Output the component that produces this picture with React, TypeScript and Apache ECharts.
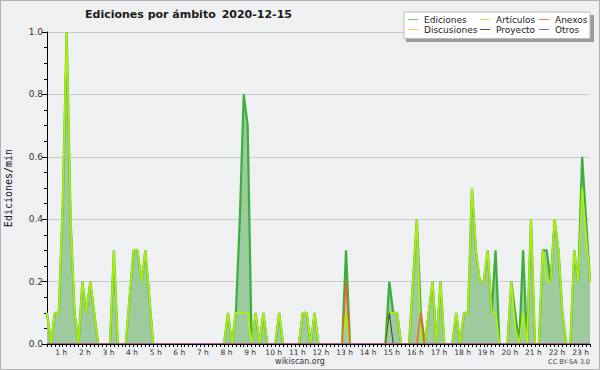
import React, { useEffect, useRef } from 'react';
import * as echarts from 'echarts';

// Time axis: minutes since 0:00, one value every 10 minutes starting at 0:20
const START_MIN = 20;
const STEP_MIN = 10;
const END_MIN = 1400;

// Ediciones/min (total), rows = hours (first row 0:20..0:50)
const ediciones = [
  0.1, 0, 0.1, 0.1,
  0.45, 1.0, 0.4, 0.1, 0, 0.2,
  0.1, 0.2, 0.1, 0, 0, 0,
  0, 0.3, 0, 0, 0, 0.15,
  0.3, 0.3, 0.2, 0.3, 0.15, 0,
  0, 0, 0, 0, 0, 0,
  0, 0, 0, 0, 0, 0,
  0, 0, 0, 0, 0, 0,
  0.1, 0, 0.1, 0.4, 0.8, 0.7,
  0, 0.1, 0, 0.1, 0, 0,
  0, 0.1, 0, 0, 0, 0,
  0, 0.1, 0.1, 0, 0.1, 0,
  0, 0, 0, 0, 0, 0,
  0.3, 0, 0, 0, 0, 0,
  0, 0, 0, 0, 0, 0.2,
  0.1, 0.1, 0, 0, 0, 0.2,
  0.4, 0.1, 0, 0.1, 0.2, 0,
  0.2, 0, 0, 0, 0.1, 0,
  0.1, 0.1, 0.5, 0.3, 0.2, 0.2,
  0.3, 0.1, 0.3, 0, 0, 0,
  0.2, 0.1, 0, 0.3, 0, 0.4,
  0, 0, 0.3, 0.3, 0.2, 0.4,
  0.3, 0.1, 0, 0, 0.3, 0.2,
  0.6, 0.4, 0.2,
];

const articulos = [
  0.1, 0, 0.1, 0.1,
  0.45, 1.0, 0.4, 0.1, 0, 0.2,
  0.1, 0.2, 0.1, 0, 0, 0,
  0, 0.3, 0, 0, 0, 0.15,
  0.3, 0.3, 0.2, 0.3, 0.15, 0,
  0, 0, 0, 0, 0, 0,
  0, 0, 0, 0, 0, 0,
  0, 0, 0, 0, 0, 0,
  0.1, 0, 0.1, 0.1, 0.1, 0.1,
  0, 0.1, 0, 0.1, 0, 0,
  0, 0.1, 0, 0, 0, 0,
  0, 0.1, 0.1, 0, 0.1, 0,
  0, 0, 0, 0, 0, 0,
  0.1, 0, 0, 0, 0, 0,
  0, 0, 0, 0, 0, 0.1,
  0.1, 0.1, 0, 0, 0, 0.2,
  0.4, 0, 0, 0.1, 0.2, 0,
  0.2, 0, 0, 0, 0.1, 0,
  0.1, 0.1, 0.5, 0.3, 0.2, 0.2,
  0.3, 0.1, 0.1, 0, 0, 0,
  0.2, 0.05, 0, 0.1, 0, 0.4,
  0, 0, 0.3, 0.2, 0.2, 0.4,
  0.3, 0.1, 0, 0, 0.3, 0.2,
  0.5, 0.35, 0.2,
];

// Sparse series: [index, value]; all other points are 0
const anexosNonZero = [[76, 0.2], [95, 0.1]];
const proyectoNonZero = [[87, 0.1]];
const discusionesNonZero: number[][] = [];
const otrosNonZero: number[][] = [];

const legendItems = [
  { name: 'Ediciones', color: '#7cc67c' },
  { name: 'Artículos', color: '#c8ec5a' },
  { name: 'Anexos', color: '#f07a48' },
  { name: 'Discusiones', color: '#f0cc50' },
  { name: 'Proyecto', color: '#555555' },
  { name: 'Otros', color: '#9a58ee' },
];

const FONT = '"DejaVu Sans", Verdana, sans-serif';

function toPoints(values: number[]) {
  return values.map((v, i) => [START_MIN + i * STEP_MIN, v]);
}
function sparseToPoints(nz: number[][]) {
  const arr = new Array(ediciones.length).fill(0);
  nz.forEach(([i, v]) => { arr[i] = v; });
  return toPoints(arr);
}

export default function App() {
  const ref = useRef<HTMLDivElement>(null);
  useEffect(() => {
    if (!ref.current) return;
    const chart = echarts.init(ref.current, null, { renderer: 'svg' });

    const colX = [408, 480, 539];
    const rowY = [19.5, 29.5];
    const legendGraphics: any[] = [];
    legendItems.forEach((it, k) => {
      const c = k % 3;
      const r = Math.floor(k / 3);
      legendGraphics.push({
        type: 'line',
        shape: { x1: colX[c], y1: rowY[r], x2: colX[c] + 10, y2: rowY[r] },
        style: { stroke: it.color, lineWidth: 1 },
        z: 101,
      });
      legendGraphics.push({
        type: 'text',
        x: colX[c] + 16,
        y: rowY[r],
        style: {
          text: it.name, fill: '#222', font: `9px ${FONT}`,
          align: 'left', verticalAlign: 'middle', textAlign: 'left', textVerticalAlign: 'middle',
        },
        z: 101,
      });
    });

    const option: any = {
      animation: false,
      backgroundColor: '#eff0f1',
      textStyle: { fontFamily: FONT },
      grid: { left: 47, right: 10, top: 32, bottom: 26, containLabel: false, outerBoundsMode: 'none' },
      xAxis: {
        type: 'value',
        min: START_MIN,
        max: END_MIN,
        interval: STEP_MIN,
        z: 5,
        axisLine: { show: true, onZero: false, lineStyle: { color: '#000', width: 1 } },
        axisTick: { show: true, inside: false, length: 3, lineStyle: { color: '#000', width: 1 } },
        axisLabel: {
          show: true,
          margin: 4,
          fontSize: 7.5,
          color: '#333',
          fontFamily: FONT,
          padding: [0, 3, 0, 0],
          formatter: (v: number) => (v % 60 === 0 ? `${v / 60} h` : ''),
        },
        splitLine: { show: false },
      },
      yAxis: {
        type: 'value',
        min: 0,
        max: 1,
        interval: 0.2,
        name: 'Ediciones/min',
        nameLocation: 'middle',
        nameGap: 34,
        nameTextStyle: { fontFamily: '"DejaVu Sans Mono", monospace', fontSize: 10, color: '#111' },
        axisLine: { show: true, lineStyle: { color: '#000', width: 1 } },
        axisTick: { show: true, inside: false, length: 5, lineStyle: { color: '#000' } },
        minorTick: { show: true, splitNumber: 4, length: 3, lineStyle: { color: '#000' } },
        axisLabel: {
          margin: 4, fontSize: 9, color: '#333', fontFamily: FONT,
          formatter: (v: number) => v.toFixed(1),
        },
        splitLine: { show: true, lineStyle: { color: '#c9cacb', width: 1 } },
      },
      series: [
        {
          name: 'Ediciones', type: 'line', data: toPoints(ediciones), showSymbol: false,
          lineStyle: { color: '#3cae3c', width: 2.2 },
          areaStyle: { color: '#9ecb9e', opacity: 1, origin: 'start' },
          z: 2,
        },
        {
          name: 'Artículos', type: 'line', data: toPoints(articulos), showSymbol: false,
          lineStyle: { color: '#b2ee0c', width: 1.7 }, z: 3,
        },
        {
          name: 'Discusiones', type: 'line', data: sparseToPoints(discusionesNonZero), showSymbol: false,
          lineStyle: { color: '#f0c530', width: 1.2 }, z: 3,
        },
        {
          name: 'Proyecto', type: 'line', data: sparseToPoints(proyectoNonZero), showSymbol: false,
          lineStyle: { color: '#444444', width: 1.1 }, z: 4,
        },
        {
          name: 'Anexos', type: 'line', data: sparseToPoints(anexosNonZero), showSymbol: false,
          lineStyle: { color: '#f0642a', width: 1.4 }, z: 4,
        },
        {
          name: 'Otros', type: 'line', data: sparseToPoints(otrosNonZero), showSymbol: false,
          lineStyle: { color: '#8844ee', width: 1.2 }, z: 4,
        },
      ],
      graphic: [
        {
          type: 'rect', shape: { x: 0.5, y: 0.5, width: 599, height: 369 },
          style: { fill: 'none', stroke: '#b0b0b0', lineWidth: 1 }, z: 100, silent: true,
        },
        {
          type: 'text', x: 85, y: 14,
          style: {
            text: 'Ediciones por ámbito', fill: '#1a1a1a', font: `bold 11px ${FONT}`,
            align: 'left', verticalAlign: 'middle', textAlign: 'left', textVerticalAlign: 'middle',
          },
          z: 100,
        },
        {
          type: 'text', x: 292, y: 14,
          style: {
            text: '2020-12-15', fill: '#1a1a1a', font: `bold 11px ${FONT}`,
            align: 'right', verticalAlign: 'middle', textAlign: 'right', textVerticalAlign: 'middle',
          },
          z: 100,
        },
        {
          type: 'rect', shape: { x: 406, y: 15, width: 188, height: 27 },
          style: { fill: '#9a9a9a' }, z: 99,
        },
        {
          type: 'rect', shape: { x: 404, y: 12, width: 186, height: 26.5 },
          style: { fill: '#ffffff', stroke: '#bbbbbb', lineWidth: 1 }, z: 100,
        },
        ...legendGraphics,
        {
          type: 'text', x: 300, y: 361,
          style: {
            text: 'wikiscan.org', fill: '#333', font: `8px ${FONT}`,
            align: 'center', verticalAlign: 'middle', textAlign: 'center', textVerticalAlign: 'middle',
          },
          z: 100,
        },
        {
          type: 'text', x: 590, y: 362,
          style: {
            text: 'CC BY-SA 3.0', fill: '#444', font: `6.5px ${FONT}`,
            align: 'right', verticalAlign: 'middle', textAlign: 'right', textVerticalAlign: 'middle',
          },
          z: 100,
        },
      ],
    };
    chart.setOption(option);
    return () => chart.dispose();
  }, []);
  return (
    <div
      ref={ref}
      style={{ position: 'fixed', left: 0, top: 0, width: 600, height: 370, background: '#eff0f1' }}
    />
  );
}
